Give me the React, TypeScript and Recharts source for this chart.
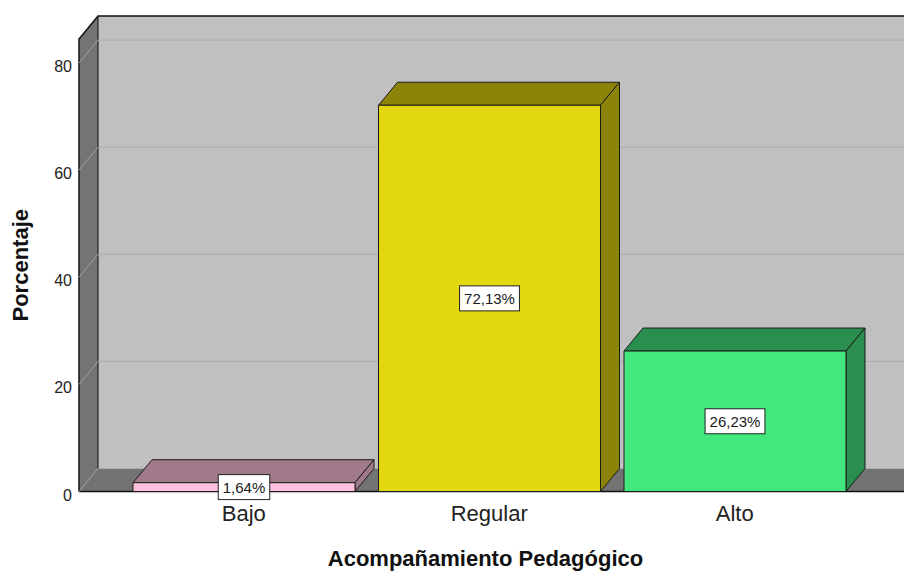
import { Bar, BarChart, LabelList, ReferenceArea, ReferenceLine, XAxis, YAxis } from "recharts";

const categories = ["Bajo", "Regular", "Alto"];
const percentages = [1.64, 72.13, 26.23];
const yTicks = [0, 20, 40, 60, 80];
const yMax = 84.5;

// front face / shaded faces (top + side) per category
const frontColors = ["#ffc0e0", "#e3d70f", "#42e87e"];
const shadeColors = ["#a07a8a", "#8c8408", "#2a8e4f"];

const FONT = '"Liberation Sans", Arial, sans-serif';
// depth of the 3D box (towards the back, up and right)
const DX = 19;
const DY = -23;
const PAD_L = 42;
const PAD_R = 46.5;

const data = categories.map((name, i) => ({ name, value: percentages[i] }));

const pts = (p: number[][]) => p.map(([a, b]) => `${a},${b}`).join(" ");

// the area rect comes in without the x-axis padding, so widen it back to the plot edges
function Walls(props: any) {
  const x = props.x - PAD_L;
  const width = props.width + PAD_L + PAD_R;
  const { y, height } = props;
  const b = y + height;
  const r = x + width + DX;
  return (
    <g>
      <polygon points={pts([[x + DX, y + DY], [r, y + DY], [r, b + DY], [x + DX, b + DY]])} fill="#c0c0c0" />
      <polygon points={pts([[x, b], [x + DX, b + DY], [r, b + DY], [r - DX, b]])} fill="#737373" />
      <polygon points={pts([[x, y], [x + DX, y + DY], [x + DX, b + DY], [x, b]])} fill="#747474" />
      <polyline points={pts([[x, b], [x, y], [x + DX, y + DY], [r, y + DY]])} fill="none" stroke="#111" strokeWidth={1.5} />
      <line x1={x + DX} y1={y + DY} x2={x + DX} y2={b + DY} stroke="#222" strokeWidth={1.2} />
      <line x1={x} y1={b} x2={r} y2={b} stroke="#111" strokeWidth={1.5} />
    </g>
  );
}

function GridLine3D(props: any) {
  const { x1, y1, x2, y2 } = props;
  return (
    <g>
      <line x1={x1 + DX} y1={y1 + DY} x2={x2 + DX} y2={y2 + DY} stroke="#acacac" strokeWidth={1} />
      <line x1={x1} y1={y1} x2={x1 + DX} y2={y1 + DY} stroke="#a2a2a2" strokeWidth={1} />
    </g>
  );
}

function Box3D(props: any) {
  const { x, y, width, height, index, payload } = props;
  const i = typeof index === "number" ? index : categories.indexOf(payload?.name);
  const shade = shadeColors[i];
  return (
    <g stroke="#1c1c1c" strokeWidth={1} strokeLinejoin="round">
      <polygon points={pts([[x, y], [x + DX, y + DY], [x + width + DX, y + DY], [x + width, y]])} fill={shade} />
      <polygon
        points={pts([[x + width, y], [x + width + DX, y + DY], [x + width + DX, y + height + DY], [x + width, y + height]])}
        fill={shade}
      />
      <rect x={x} y={y} width={width} height={height} fill={frontColors[i]} />
    </g>
  );
}

const charW: Record<string, number> = { ",": 0.278, "%": 0.889 };
const textWidth = (s: string, size: number) =>
  s.split("").reduce((w, c) => w + (charW[c] ?? 0.556), 0) * size;

function ValueBox(props: any) {
  const { x, y, width, height, value } = props;
  const text = `${Number(value).toFixed(2).replace(".", ",")}%`;
  const w = textWidth(text, 15) + 9;
  const cx = x + width / 2;
  const cy = y + height / 2;
  return (
    <g>
      <rect x={cx - w / 2} y={cy - 12.5} width={w} height={25} fill="#fff" stroke="#222" strokeWidth={1} />
      <text x={cx} y={cy + 5.5} textAnchor="middle" fontSize={15} fontFamily={FONT} fill="#1a1a1a">
        {text}
      </text>
    </g>
  );
}

function YTick({ x, y, payload }: any) {
  return (
    <text x={x} y={y + 9} textAnchor="end" fontSize={16} fontFamily={FONT} fill="#222">
      {payload.value}
    </text>
  );
}

function XTick({ x, y, payload }: any) {
  return (
    <text x={x} y={y + 29.5} textAnchor="middle" fontSize={22} fontFamily={FONT} fill="#222">
      {payload.value}
    </text>
  );
}

function XTitle({ viewBox }: any) {
  const { x, width } = viewBox;
  return (
    <text x={x + width / 2 - 6} y={566} textAnchor="middle" fontSize={22} fontWeight="bold" fontFamily={FONT} fill="#111">
      Acompañamiento Pedagógico
    </text>
  );
}

function YTitle({ viewBox }: any) {
  const { y, height } = viewBox;
  const cy = y + height / 2;
  return (
    <text x={28} y={cy} transform={`rotate(-90 28 ${cy})`} textAnchor="middle" fontSize={22} fontWeight="bold" fontFamily={FONT} fill="#111">
      Porcentaje
    </text>
  );
}

export default function App() {
  return (
    <div style={{ position: "absolute", left: 0, top: 0, width: 904, height: 572, background: "#fff", overflow: "hidden" }}>
      <BarChart width={904} height={572} data={data} margin={{ top: 39, right: 0, bottom: 50.5, left: 0 }}>
        <XAxis
          dataKey="name"
          height={30}
          axisLine={false}
          tickLine={false}
          tickSize={0}
          tickMargin={0}
          padding={{ left: PAD_L, right: PAD_R }}
          tick={<XTick />}
          label={<XTitle />}
        />
        <YAxis
          type="number"
          domain={[0, yMax]}
          ticks={yTicks}
          width={79}
          axisLine={false}
          tickLine={false}
          tickSize={0}
          tickMargin={7}
          tick={<YTick />}
          label={<YTitle />}
        />
        <ReferenceArea y1={0} y2={yMax} shape={<Walls />} zIndex={-200} />
        {yTicks.map((t) => (
          <ReferenceLine key={t} y={t} shape={<GridLine3D />} zIndex={-150} />
        ))}
        <Bar dataKey="value" barSize={222} shape={<Box3D />} isAnimationActive={false}>
          <LabelList dataKey="value" content={<ValueBox />} />
        </Bar>
      </BarChart>
    </div>
  );
}
